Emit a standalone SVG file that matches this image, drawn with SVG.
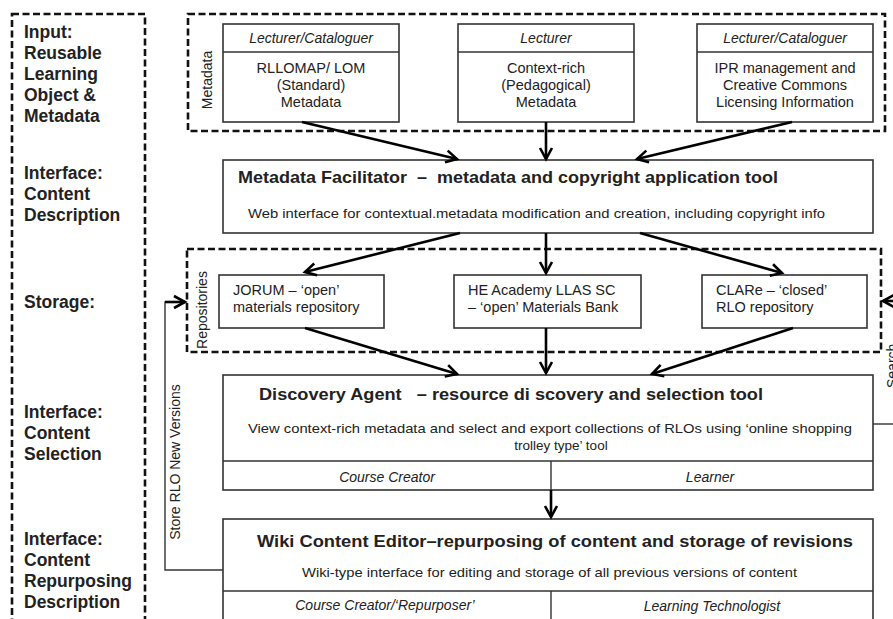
<svg xmlns="http://www.w3.org/2000/svg" width="893" height="619" viewBox="0 0 893 619">
<style>
text{font-family:"Liberation Sans",Arial,sans-serif;fill:#222}
.lab{font-size:17.5px;font-weight:bold}
.box{fill:#fff;stroke:#333;stroke-width:1.6}
.dash{fill:none;stroke:#111;stroke-width:2.6;stroke-dasharray:7 3.5}
.hd{font-size:14px;font-style:italic;text-anchor:middle}
.bd{font-size:14.5px;text-anchor:middle}
.rp{font-size:14.5px}
.ttl{font-weight:bold;font-size:17px;white-space:pre}
.sub{font-size:13.5px}
.rot{font-size:14px}
.arr{fill:none;stroke:#000;stroke-width:2.6;marker-end:url(#ah)}
.thin{fill:none;stroke:#333;stroke-width:1.4}
</style>
<defs>
<marker id="ah" markerUnits="userSpaceOnUse" markerWidth="16" markerHeight="16" refX="13" refY="8" orient="auto">
<path d="M2,2 L13,8 L2,14" fill="none" stroke="#000" stroke-width="2.6"/>
</marker>
</defs>
<rect width="893" height="619" fill="#fff"/>

<g id="stages">
<rect class="dash" x="12" y="14" width="133" height="640"/>
<text class="lab" x="24" y="38">Input:</text>
<text class="lab" x="24" y="59">Reusable</text>
<text class="lab" x="24" y="80">Learning</text>
<text class="lab" x="24" y="101">Object &amp;</text>
<text class="lab" x="24" y="122">Metadata</text>
<text class="lab" x="24" y="179">Interface:</text>
<text class="lab" x="24" y="200">Content</text>
<text class="lab" x="24" y="221">Description</text>
<text class="lab" x="24" y="308">Storage:</text>
<text class="lab" x="24" y="418">Interface:</text>
<text class="lab" x="24" y="439">Content</text>
<text class="lab" x="24" y="460">Selection</text>
<text class="lab" x="24" y="545">Interface:</text>
<text class="lab" x="24" y="566">Content</text>
<text class="lab" x="24" y="587">Repurposing</text>
<text class="lab" x="24" y="608">Description</text>
</g>

<g id="metadata-group">
<rect class="dash" x="188" y="14" width="697" height="117"/>
<text class="rot" transform="translate(212,80) rotate(-90)" text-anchor="middle" font-size="13">Metadata</text>
</g>

<g id="md-standard">
<rect class="box" x="223" y="24" width="176" height="98"/>
<line class="thin" x1="223" y1="52" x2="399" y2="52"/>
<text class="hd" x="311" y="43">Lecturer/Cataloguer</text>
<text class="bd" x="311" y="73">RLLOMAP/ LOM</text>
<text class="bd" x="311" y="90">(Standard)</text>
<text class="bd" x="311" y="107">Metadata</text>
</g>

<g id="md-context">
<rect class="box" x="458" y="24" width="176" height="98"/>
<line class="thin" x1="458" y1="52" x2="634" y2="52"/>
<text class="hd" x="546" y="43">Lecturer</text>
<text class="bd" x="546" y="73">Context-rich</text>
<text class="bd" x="546" y="90">(Pedagogical)</text>
<text class="bd" x="546" y="107">Metadata</text>
</g>

<g id="md-ipr">
<rect class="box" x="697" y="24" width="176" height="98"/>
<line class="thin" x1="697" y1="52" x2="873" y2="52"/>
<text class="hd" x="785" y="43">Lecturer/Cataloguer</text>
<text class="bd" x="785" y="73">IPR management and</text>
<text class="bd" x="785" y="90">Creative Commons</text>
<text class="bd" x="785" y="107">Licensing Information</text>
</g>

<g id="facilitator">
<rect class="box" x="223" y="160" width="650" height="73"/>
<text class="ttl" x="238" y="183" textLength="540" lengthAdjust="spacingAndGlyphs">Metadata Facilitator  –  metadata and copyright application tool</text>
<text class="sub" x="248" y="218" textLength="577" lengthAdjust="spacingAndGlyphs">Web interface for contextual.metadata modification and creation, including copyright info</text>
</g>

<g id="repositories-group">
<rect class="dash" x="187" y="249" width="694" height="103"/>
<text class="rot" transform="translate(207,310) rotate(-90)" text-anchor="middle" font-size="13">Repositories</text>
</g>

<g id="jorum">
<rect class="box" x="219" y="275" width="165" height="53"/>
<text class="rp" x="233" y="295">JORUM – ‘open’</text>
<text class="rp" x="233" y="312">materials repository</text>
</g>

<g id="heacademy">
<rect class="box" x="454" y="275" width="187" height="53"/>
<text class="rp" x="468" y="295">HE Academy LLAS SC</text>
<text class="rp" x="468" y="312">– ‘open’ Materials Bank</text>
</g>

<g id="clare">
<rect class="box" x="702" y="275" width="165" height="53"/>
<text class="rp" x="716" y="295">CLARe – ‘closed’</text>
<text class="rp" x="716" y="312">RLO repository</text>
</g>

<g id="discovery">
<rect class="box" x="223" y="375" width="650" height="115"/>
<line class="thin" x1="223" y1="461" x2="873" y2="461"/>
<line class="thin" x1="551" y1="461" x2="551" y2="490"/>
<text class="ttl" x="259" y="400" textLength="504" lengthAdjust="spacingAndGlyphs">Discovery Agent   – resource di scovery and selection tool</text>
<text class="sub" x="248" y="433" textLength="604" lengthAdjust="spacingAndGlyphs">View context-rich metadata and select and export collections of RLOs using ‘online shopping</text>
<text class="sub" x="561" y="450" text-anchor="middle">trolley type’ tool</text>
<text class="hd" x="387" y="482">Course Creator</text>
<text class="hd" x="710" y="482">Learner</text>
</g>

<g id="wiki">
<rect class="box" x="223" y="519" width="650" height="110"/>
<line class="thin" x1="223" y1="591" x2="873" y2="591"/>
<line class="thin" x1="551" y1="591" x2="551" y2="629"/>
<text class="ttl" x="257" y="547" textLength="596" lengthAdjust="spacingAndGlyphs">Wiki Content Editor–repurposing of content and storage of revisions</text>
<text class="sub" x="302" y="577" textLength="495" lengthAdjust="spacingAndGlyphs">Wiki-type interface for editing and storage of all previous versions of content</text>
<text class="hd" x="385" y="610">Course Creator/‘Repurposer’</text>
<text class="hd" x="712" y="611">Learning Technologist</text>
</g>

<g id="connectors">
<line class="arr" x1="302" y1="122" x2="457" y2="159"/>
<line class="arr" x1="546" y1="122" x2="546" y2="159"/>
<line class="arr" x1="792" y1="122" x2="637" y2="159"/>
<line class="arr" x1="460" y1="233" x2="305" y2="272"/>
<line class="arr" x1="546" y1="233" x2="546" y2="273"/>
<line class="arr" x1="640" y1="233" x2="782" y2="273"/>
<line class="arr" x1="305" y1="328" x2="457" y2="374"/>
<line class="arr" x1="546" y1="328" x2="546" y2="373"/>
<line class="arr" x1="793" y1="328" x2="652" y2="374"/>
<line class="arr" x1="551" y1="490" x2="551" y2="517"/>
<polyline class="thin" points="223,570 165,570 165,302 175,302"/>
<line class="arr" x1="165" y1="302" x2="185" y2="302"/>
<text class="rot" transform="translate(180,462) rotate(-90)" text-anchor="middle" font-size="14.5" fill="#333">Store RLO New Versions</text>
<line class="thin" x1="873" y1="424" x2="893" y2="424"/>
<line class="arr" x1="900" y1="301" x2="883" y2="301"/>
<text class="rot" transform="translate(897,388) rotate(-90)" font-size="13" fill="#333">Search</text>
</g>
</svg>
